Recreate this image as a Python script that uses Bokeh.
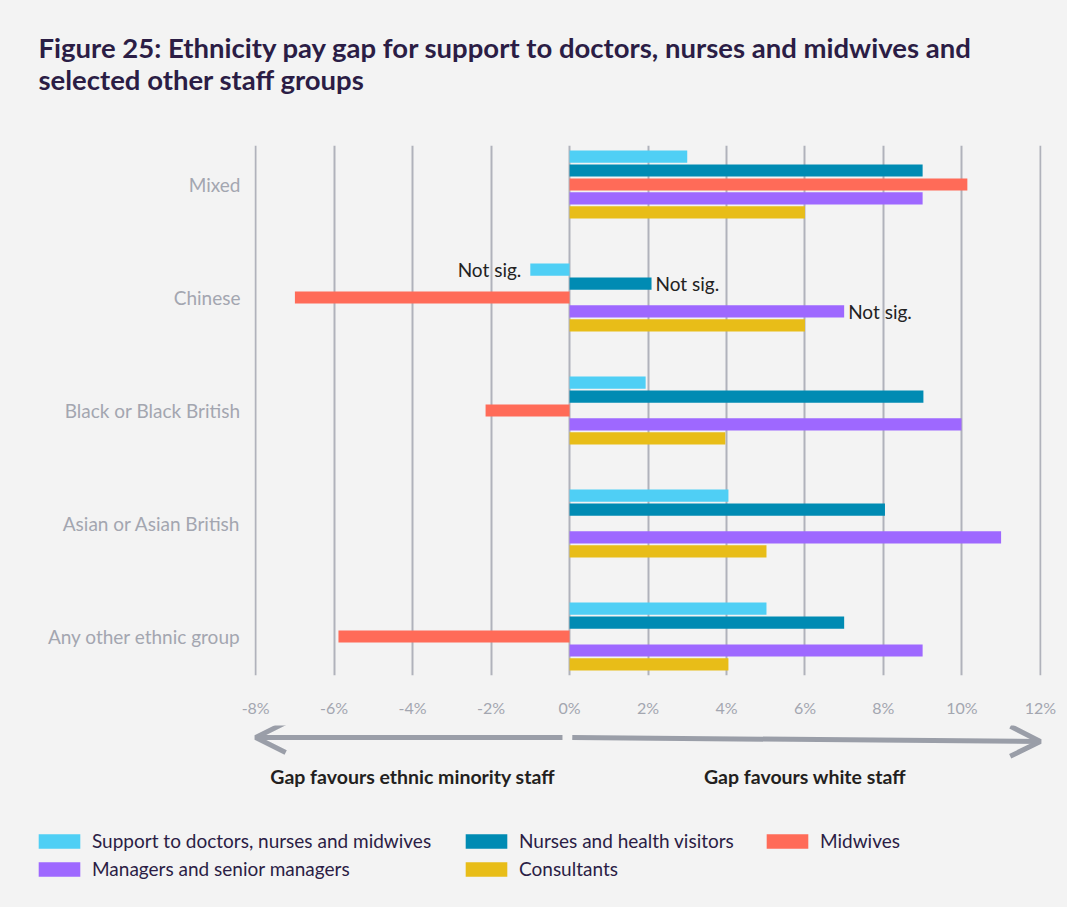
from bokeh.plotting import figure
from bokeh.layouts import column
from bokeh.models import (ColumnDataSource, Range1d, FixedTicker, Label, Arrow, OpenHead,
                          Legend, LegendItem, NumeralTickFormatter)
from bokeh.embed import file_html
from bokeh.resources import INLINE

NAN = float("nan")

categories = ["Mixed", "Chinese", "Black or Black British", "Asian or Asian British", "Any other ethnic group"]
series_names = ["Support to doctors, nurses and midwives", "Nurses and health visitors", "Midwives",
                "Managers and senior managers", "Consultants"]
support = [3.0, -1.0, 1.94, 4.05, 5.02]
nurses = [9.0, 2.09, 9.02, 8.04, 7.0]
midwives = [10.14, -7.0, -2.14, NAN, -5.89]
managers = [9.0, 7.0, 9.99, 11.0, 9.0]
consultants = [6.0, 6.0, 3.97, 5.02, 4.05]
colors = ["#4fcff5", "#008bb3", "#ff6b58", "#9e68ff", "#e8bd18"]
not_sig = [("Chinese", 0), ("Chinese", 1), ("Chinese", 3)]  # (category, series index)
x_ticks = [-8, -6, -4, -2, 0, 2, 4, 6, 8, 10, 12]
left_note = "Gap favours ethnic minority staff"
right_note = "Gap favours white staff"
title_lines = ["Figure 25: Ethnicity pay gap for support to doctors, nurses and midwives and",
               "selected other staff groups"]
# legend columns (series indices, top to bottom)
legend_columns = [[0, 3], [1, 4], [2]]

series = [support, nurses, midwives, managers, consultants]

W, H = 1067, 907
FONT = "Lato"
BG = "#f3f3f3"
GREY = "#a3a6b0"
DARK = "#2b1d45"

TOP_H = 145          # title strip
MAIN_BOTTOM = 725    # main figure ends here
FL, FR = 254, 1041   # frame left/right of main chart
FB = 675             # frame bottom of main chart
x0, x1 = -8.03, 12.03
y0, y1 = -0.345, 4.345
ppu_x = (FR - FL) / (x1 - x0)


def strip(height, x_range, y_range):
    f = figure(width=W, height=height, output_backend="svg", toolbar_location=None,
               x_range=x_range, y_range=y_range, min_border=0,
               x_axis_location=None, y_axis_location=None)
    f.grid.visible = False
    f.background_fill_color = BG
    f.border_fill_color = BG
    f.outline_line_color = None
    f.frame_align = False
    return f


# ---- title strip (pixel coordinates) ----
pt = strip(TOP_H, Range1d(0, W), Range1d(TOP_H, 0))
for i, line in enumerate(title_lines):
    pt.add_layout(Label(x=38, y=47 + 32 * i, text=line, text_font=FONT, text_font_style="bold",
                        text_font_size="27.5px", text_color=DARK, text_baseline="middle", text_align="left"))

# ---- main chart ----
p = figure(width=W, height=MAIN_BOTTOM - TOP_H, output_backend="svg", toolbar_location=None,
           x_range=Range1d(x0, x1), y_range=Range1d(y0, y1),
           min_border_left=FL, min_border_right=W - FR, min_border_top=0,
           min_border_bottom=MAIN_BOTTOM - FB)
p.background_fill_color = BG
p.border_fill_color = BG
p.outline_line_color = None
p.frame_align = False

ncat = len(categories)
ypos = {c: ncat - 1 - i for i, c in enumerate(categories)}
offsets = [0.2472, 0.1236, 0.0, -0.1236, -0.2472]
bar_h = 0.108

for k, (vals, col) in enumerate(zip(series, colors)):
    ys = [ypos[c] + offsets[k] for c in categories]
    src = ColumnDataSource(dict(y=ys, right=vals))
    p.hbar(y="y", left=0, right="right", height=bar_h, source=src, fill_color=col, line_color=None)

ns_x, ns_y, ns_align, ns_off = [], [], [], []
for cat, k in not_sig:
    v = series[k][categories.index(cat)]
    ns_x.append(v)
    ns_y.append(ypos[cat] + offsets[k])
    ns_align.append("right" if v < 0 else "left")
    ns_off.append(-9 if v < 0 else 4)
p.text(x="x", y="y", text="t", x_offset="o", text_align="a", text_baseline="middle",
       source=ColumnDataSource(dict(x=ns_x, y=ns_y, t=["Not sig."] * len(ns_x), a=ns_align, o=ns_off)),
       text_font_size="19px", text_color="#222222", text_font={"value": FONT})

p.ygrid.grid_line_color = None
p.xgrid.ticker = FixedTicker(ticks=x_ticks)
p.xgrid.grid_line_color = "#b0b2bb"
p.xgrid.grid_line_width = 2

xa = p.xaxis[0]
xa.ticker = FixedTicker(ticks=x_ticks)
xa.formatter = NumeralTickFormatter(format="0")
xa.major_label_overrides = {t: f"{t}%" for t in x_ticks}
xa.axis_line_color = None
xa.major_tick_line_color = None
xa.minor_tick_line_color = None
xa.major_tick_out = 0
xa.major_label_standoff = 22
xa.major_label_text_color = GREY
xa.major_label_text_font = FONT
xa.major_label_text_font_size = "16px"

ya = p.yaxis[0]
ya.ticker = FixedTicker(ticks=[ypos[c] for c in categories])
ya.major_label_overrides = {ypos[c]: c for c in categories}
ya.axis_line_color = None
ya.major_tick_line_color = None
ya.minor_tick_line_color = None
ya.major_tick_out = 0
ya.major_label_standoff = 14
ya.major_label_text_color = GREY
ya.major_label_text_font = FONT
ya.major_label_text_font_size = "19px"

# ---- bottom strip: arrows, notes, legend (same x mapping as main chart) ----
BOT_H = H - MAIN_BOTTOM
bx0 = x0 - FL / ppu_x
bx1 = x1 + (W - FR) / ppu_x
pb = strip(BOT_H, Range1d(bx0, bx1), Range1d(H, MAIN_BOTTOM))

ARROW = "#9a9ea8"
pb.add_layout(Arrow(x_start=-0.18, y_start=737, x_end=x_ticks[0], y_end=737,
                    line_color=ARROW, line_width=5,
                    end=OpenHead(size=30, line_color=ARROW, line_width=5)))
pb.add_layout(Arrow(x_start=0.07, y_start=737, x_end=x_ticks[-1], y_end=741,
                    line_color=ARROW, line_width=5,
                    end=OpenHead(size=30, line_color=ARROW, line_width=5)))
pb.add_layout(Label(x=-4.0, y=776, text=left_note, text_font=FONT, text_font_style="bold",
                    text_font_size="19.5px", text_color="#231f20", text_baseline="middle", text_align="center"))
pb.add_layout(Label(x=6.0, y=776, text=right_note, text_font=FONT, text_font_style="bold",
                    text_font_size="19.5px", text_color="#231f20", text_baseline="middle", text_align="center"))

legend_renderers = []
for col in colors:
    r = pb.hbar(y=[0], left=[0], right=[0], height=0.1, fill_color=col, line_color=None)
    legend_renderers.append(r)

# legend glyphs are inset by 10% on each side, so enlarge the glyph box
GW, GH = 52, 18
inset = 5
col_x = [38, 465, 766]
ROW1_BOTTOM, ROW2_BOTTOM = 852, 880
for cx, idxs in zip(col_x, legend_columns):
    bottom = ROW2_BOTTOM if len(idxs) == 2 else ROW1_BOTTOM
    lg = Legend(items=[LegendItem(label=series_names[i], renderers=[legend_renderers[i]]) for i in idxs],
                location=(cx - inset, H - bottom), orientation="vertical",
                glyph_width=GW, glyph_height=GH, label_standoff=7, spacing=5, label_height=23,
                label_text_font=FONT, label_text_font_size="19px", label_text_color=DARK,
                background_fill_alpha=0, border_line_color=None, padding=0, margin=0)
    pb.add_layout(lg)

layout = column(pt, p, pb, spacing=0, styles={"background-color": BG})
open("out.html", "w").write(file_html(layout, INLINE))
